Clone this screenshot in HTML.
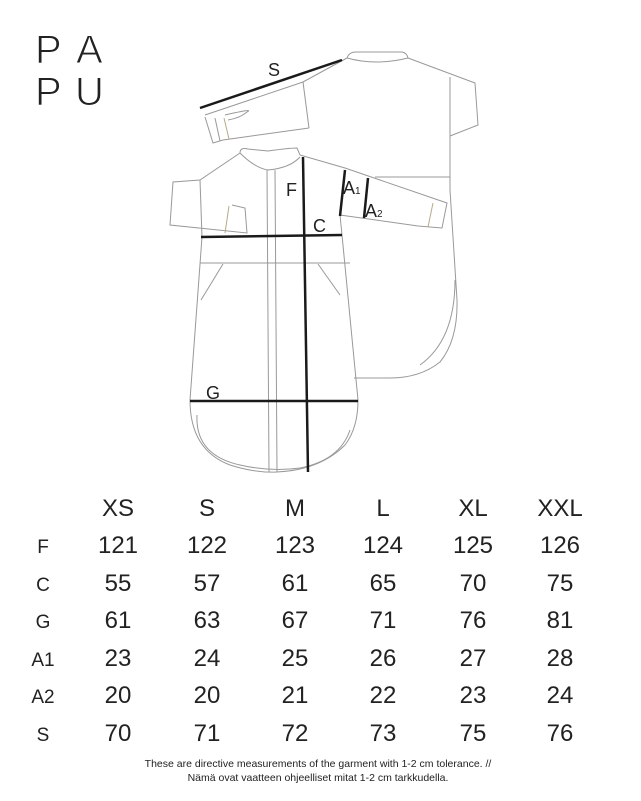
<!DOCTYPE html>
<html><head><meta charset="utf-8"><style>
html,body{margin:0;padding:0;background:#fff;}
svg{display:block;}
text{font-family:"Liberation Sans",sans-serif;fill:#222;}
</style></head><body>
<svg width="641" height="801" viewBox="0 0 641 801" xmlns="http://www.w3.org/2000/svg">
<rect width="641" height="801" fill="#fff"/>
<g font-size="40" stroke="#fff" stroke-width="1">
<text x="35" y="63">P</text><text x="76" y="63">A</text>
<text x="35" y="105">P</text><text x="75" y="105">U</text>
</g>
<!-- back garment -->
<g fill="none" stroke="#999" stroke-width="1">
<path d="M347,58 Q349,52 356,52 L402,52 Q407,53 408,58"/>
<path d="M347,58 Q376,66 408,58"/>
<path d="M408,58 L475,83 L478,125 L450,136"/>
<path d="M450,77 L450,190 L457,300 Q458,340 440,362 Q420,378 390,378 L354,378"/>
<path d="M347,58 L303,82 L205,115"/>
<path d="M303,82 L309,128"/>
<path d="M205,117 L213,143 L223,140 L309,128"/>
<path d="M215,118 L220,141"/>
<path d="M224,118 L229,139" stroke="#b9a98a"/>
<path d="M225,115 Q255,108 247,112 Q240,118 228,120"/>
<path d="M375,177 L450,177"/>
<path d="M455,280 Q455,340 420,365"/>
</g>
<!-- front garment -->
<g fill="none" stroke="#999" stroke-width="1">
<path d="M240,153 Q240,147 248,149 L268,151 Q290,148 297,148 L300,155"/>
<path d="M240,153 Q255,168 268,170 Q290,168 300,157"/>
<path d="M240,153 L200,180 L173,182 L170,225 L247,233 L245,208 L232,205"/>
<path d="M200,180 L202,237"/>
<path d="M229,206 L225,233" stroke="#b9a98a"/>
<path d="M300,155 L345,168 L447,203 L442,228 L418,226 L340,215"/>
<path d="M433,203 L428,227" stroke="#b9a98a"/>
<path d="M202,237 L190,400 Q190,450 230,465 Q255,473 277,472 Q320,470 345,445 Q358,428 358,400 L342,235 L340,215"/>
<path d="M197,415 Q195,455 240,465 Q270,472 300,468 Q340,460 350,430"/>
<path d="M200,263 L350,263"/>
<path d="M223,264 L201,300"/>
<path d="M318,264 L340,295"/>
<path d="M267,170 L269,472"/>
<path d="M275,170 L277,472"/>
</g>
<!-- measurement lines -->
<g stroke="#1a1a1a" stroke-width="2.5" fill="none">
<path d="M200,108 L342,60"/>
<path d="M303,157 L308,472"/>
<path d="M201,237 L342,235"/>
<path d="M190,401 L358,401"/>
<path d="M345,170 L340,216"/>
<path d="M368,178 L364,218"/>
</g>
<g font-size="18">
<text x="268" y="76">S</text>
<text x="286" y="196">F</text>
<text x="313" y="232">C</text>
<text x="206" y="399">G</text>
<text x="343" y="194">A<tspan font-size="10">1</tspan></text>
<text x="365" y="217">A<tspan font-size="10">2</tspan></text>
</g>
<g font-size="24" text-anchor="middle">
<text x="118" y="516">XS</text><text x="207" y="516">S</text><text x="295" y="516">M</text><text x="383" y="516">L</text><text x="473" y="516">XL</text><text x="560" y="516">XXL</text>
<text x="118" y="553">121</text><text x="207" y="553">122</text><text x="295" y="553">123</text><text x="383" y="553">124</text><text x="473" y="553">125</text><text x="560" y="553">126</text>
<text x="118" y="591">55</text><text x="207" y="591">57</text><text x="295" y="591">61</text><text x="383" y="591">65</text><text x="473" y="591">70</text><text x="560" y="591">75</text>
<text x="118" y="628">61</text><text x="207" y="628">63</text><text x="295" y="628">67</text><text x="383" y="628">71</text><text x="473" y="628">76</text><text x="560" y="628">81</text>
<text x="118" y="666">23</text><text x="207" y="666">24</text><text x="295" y="666">25</text><text x="383" y="666">26</text><text x="473" y="666">27</text><text x="560" y="666">28</text>
<text x="118" y="703">20</text><text x="207" y="703">20</text><text x="295" y="703">21</text><text x="383" y="703">22</text><text x="473" y="703">23</text><text x="560" y="703">24</text>
<text x="118" y="741">70</text><text x="207" y="741">71</text><text x="295" y="741">72</text><text x="383" y="741">73</text><text x="473" y="741">75</text><text x="560" y="741">76</text>
</g>
<g font-size="19" text-anchor="middle">
<text x="43" y="553">F</text><text x="43" y="591">C</text><text x="43" y="628">G</text><text x="43" y="666">A1</text><text x="43" y="703">A2</text><text x="43" y="741">S</text>
</g>
<g font-size="10.5" text-anchor="middle">
<text x="318" y="767">These are directive measurements of the garment with 1-2 cm tolerance. //</text>
<text x="318" y="781">Nämä ovat vaatteen ohjeelliset mitat 1-2 cm tarkkudella.</text>
</g>
</svg>
</body></html>
